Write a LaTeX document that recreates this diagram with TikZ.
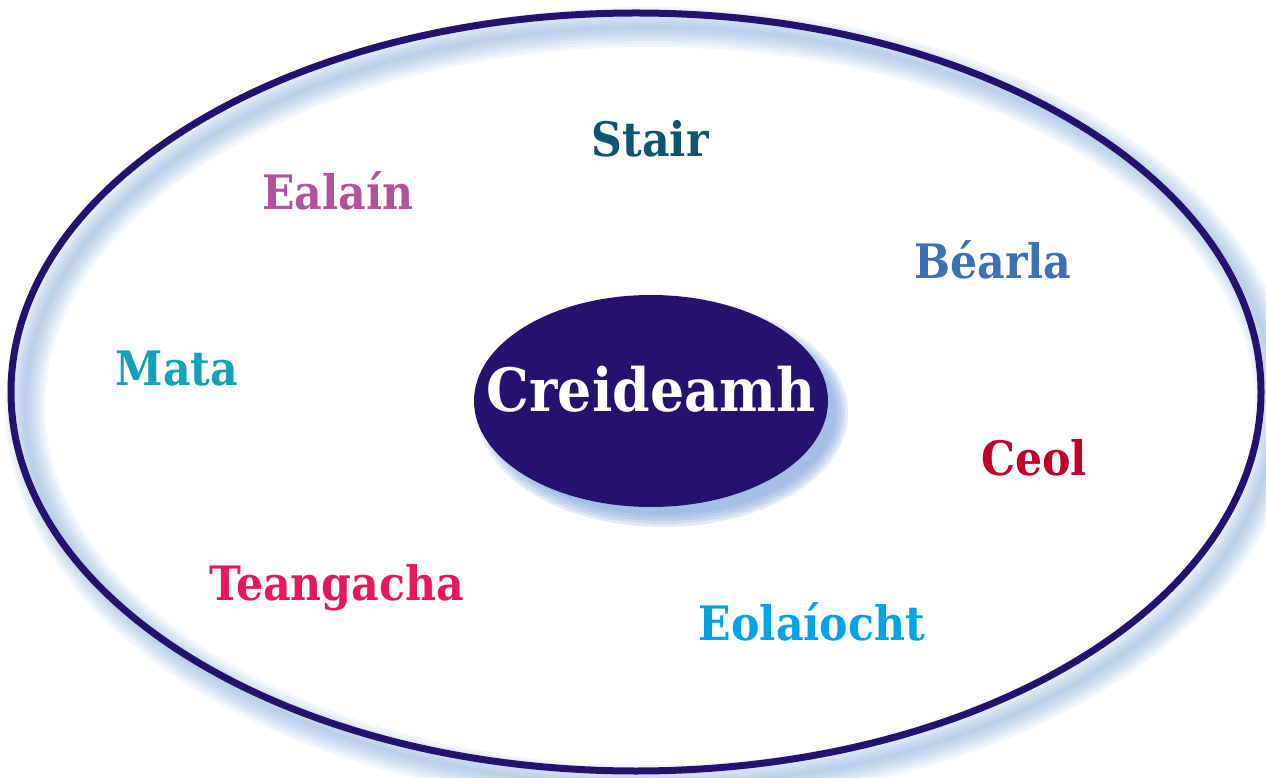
\documentclass[tikz,border=0pt]{standalone}
\usepackage{fontspec}
\setmainfont{DejaVu Serif Condensed}
\usepackage{tikz}
\definecolor{navyColor}{HTML}{24126E}
\definecolor{glowColor}{HTML}{7FA6D8}
\definecolor{stairColor}{HTML}{0C5470}
\definecolor{ealainColor}{HTML}{B3529C}
\definecolor{bearlaColor}{HTML}{3B6FB6}
\definecolor{mataColor}{HTML}{0FA3B5}
\definecolor{ceolColor}{HTML}{C0002A}
\definecolor{teangColor}{HTML}{E8175D}
\definecolor{eolasColor}{HTML}{00A3E4}

\begin{document}
\begin{tikzpicture}[
    x = 0.2mm, y = -0.2mm,
    subject/.style = {anchor=base, inner sep=0pt,
        font=\fontsize{27}{30}\selectfont\bfseries},
    core/.style = {anchor=base, inner sep=0pt, text=white,
        font=\fontsize{34}{38}\selectfont\bfseries}
  ]
  \useasboundingbox (0,0) rectangle (1266,778);

  % soft glow of the outer ring
  \foreach \w in {40,34,...,4}
  \draw[glowColor, opacity=0.1, line width=\w*0.2mm] (650,406) ellipse [x radius=625, y radius=379];
  \draw[navyColor, line width=1.4mm] (636,392) ellipse [x radius=625, y radius=379];

  % shadow of the centre
  \foreach \d in {8,5,...,-4}
  \fill[glowColor, opacity=0.22] (663,413) ellipse [x radius={177+\d}, y radius={106+\d}];
  \fill[navyColor] (651,401) ellipse [x radius=177, y radius=106];

  \node[core] (CORE) at (651,412) {Creideamh};

  \node[subject, text=stairColor] (STAIR) at (650,157) {Stair};
  \node[subject, text=ealainColor] (EALAIN) at (338,210) {Ealaín};
  \node[subject, text=bearlaColor] (BEARLA) at (993,279) {Béarla};
  \node[subject, text=mataColor] (MATA) at (177,386) {Mata};
  \node[subject, text=ceolColor] (CEOL) at (1034,476) {Ceol};
  \node[subject, text=teangColor] (TEANG) at (337,600) {Teangacha};
  \node[subject, text=eolasColor] (EOLAS) at (812,640) {Eolaíocht};
\end{tikzpicture}
\end{document}
